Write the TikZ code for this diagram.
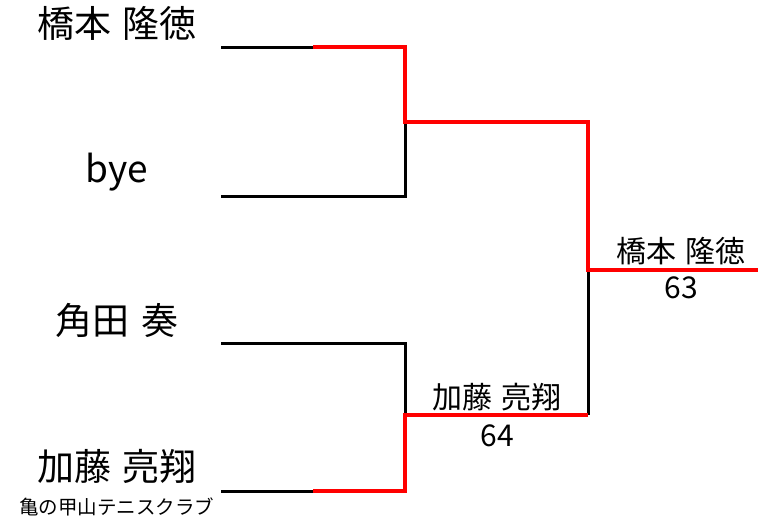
\documentclass[tikz,border=0pt]{standalone}
\usepackage{fontspec}
\setmainfont{Noto Sans CJK JP}
\usepackage{tikz}
\usetikzlibrary{positioning}
\newcommand{\gap}{\hspace{0.3em}}

\begin{document}
\begin{tikzpicture}[
            x=1pt, y=-1pt,
            loser/.style={draw=black, line width=3pt},
            winner/.style={draw=red, line width=4.5pt},
            player/.style={inner sep=0pt, font=\fontsize{37}{42}\selectfont},
            club/.style={inner sep=0pt, font=\fontsize{19.5}{24}\selectfont},
            result/.style={inner sep=0pt, font=\fontsize{30}{34}\selectfont}
        ]
            \useasboundingbox (0,0) rectangle (760,523);
            \begin{scope}[
                every node/.style={player}
            ]
                % Players
                \node (p1) at (117, 23) {橋本\gap 隆徳};
                \node (p2) at (117,172) {bye};
                \node (p3) at (117,320) {角田\gap 奏};
                \node (p4) at (117,466) {加藤\gap 亮翔};
                \node[club] (c4) at (117,507) {亀の甲山テニスクラブ};
            \end{scope}
            % Line ends
            \coordinate (l1) at (221, 47); \coordinate (m1) at (313, 47); \coordinate (j1) at (405, 47);
            \coordinate (l2) at (221,196); \coordinate (j2) at (405,196);
            \coordinate (l3) at (221,343); \coordinate (j3) at (405,343);
            \coordinate (l4) at (221,491); \coordinate (m4) at (313,491); \coordinate (j4) at (405,491);
            \coordinate (s1) at (405,122); \coordinate (s1r) at (588,122);
            \coordinate (s2) at (405,415); \coordinate (s2r) at (588,415);
            \coordinate (f) at (588,270);  \coordinate (fr) at (758,270);
            % Results
            \node[result] (w2) at (497,397) {加藤\gap 亮翔};
            \node[result] (r2) at (497,436) {64};
            \node[result] (w1) at (681,251) {橋本\gap 隆徳};
            \node[result] (r1) at (681,288) {63};
            % Lines
            \draw[loser] (l1) -- (m1);
            \draw[loser] (l2) -- (j2) -- (s1);
            \draw[loser] (l3) -- (j3) -- (s2);
            \draw[loser] (l4) -- (m4);
            \draw[loser] (f) -- (s2r);
            \draw[winner] (m1) -- (j1) -- (s1) -- (s1r) -- (f) -- (fr);
            \draw[winner] (m4) -- (j4) -- (s2) -- (s2r);
        \end{tikzpicture}
\end{document}
